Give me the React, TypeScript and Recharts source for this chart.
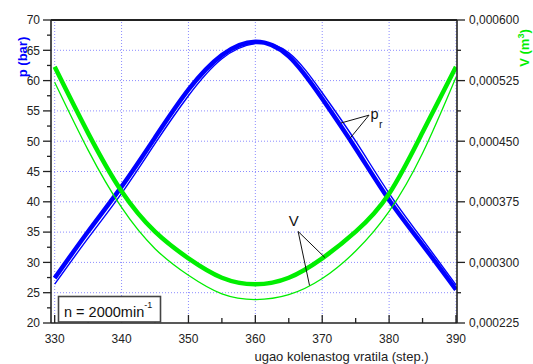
import React from 'react';
import { ComposedChart, Line, XAxis, YAxis, ReferenceLine, ReferenceDot } from 'recharts';

const angles = [330, 335, 340, 345, 350, 355, 360, 365, 370, 375, 380, 385, 390];
const pThick = [27.4, 35.1, 42.5, 50.6, 58.5, 64.2, 66.4, 64.0, 57.0, 48.8, 40.3, 32.9, 25.5];
const pThin = [26.4, 34.0, 41.4, 49.6, 57.5, 63.6, 66.1, 64.6, 58.0, 50.0, 41.4, 33.8, 26.3];
const vThick = [0.000542, 0.00046, 0.000388, 0.000338, 0.000305, 0.000281, 0.000273, 0.000281, 0.000305, 0.000338, 0.000385, 0.000461, 0.000542];
const vThin = [0.000523, 0.000439, 0.000368, 0.000317, 0.000284, 0.000261, 0.000254, 0.00026, 0.00028, 0.000314, 0.000363, 0.000435, 0.000529];

const xTicks = [330, 335, 340, 345, 350, 355, 360, 365, 370, 375, 380, 385, 390];
const xMajor = [330, 340, 350, 360, 370, 380, 390];
const pTicks = [20, 22.5, 25, 27.5, 30, 32.5, 35, 37.5, 40, 42.5, 45, 47.5, 50, 52.5, 55, 57.5, 60, 62.5, 65, 67.5, 70];
const pMajor = [20, 25, 30, 35, 40, 45, 50, 55, 60, 65, 70];
const pGrid = [25, 30, 35, 40, 45, 50, 55, 60, 65];
const vTicks = [0.000225, 0.0002625, 0.0003, 0.0003375, 0.000375, 0.0004125, 0.00045, 0.0004875, 0.000525, 0.0005625, 0.0006];
const vMajor = [0.000225, 0.0003, 0.000375, 0.00045, 0.000525, 0.0006];

const data = angles.map((a, i) => ({ a, pThick: pThick[i], pThin: pThin[i], vThick: vThick[i], vThin: vThin[i] }));

const FONT = '"Liberation Sans", Arial, sans-serif';
const BLUE = '#0000ff';
const GREEN = '#00ee00';
const GRID = '#8c8cff';

const isIn = (arr: number[], v: number) => arr.some((m) => Math.abs(m - v) < 1e-9);

const XTick = (props: any) => {
  const { x, y, payload } = props;
  const major = isIn(xMajor, payload.value);
  return (
    <g>
      <line x1={x} x2={x} y1={y} y2={y - (major ? 8 : 5)} stroke="#222" strokeWidth={1.3} />
      {major && (
        <text x={x} y={y + 20} textAnchor="middle" fontFamily={FONT} fontSize={12} fill="#222">
          {payload.value}
        </text>
      )}
    </g>
  );
};

const PTick = (props: any) => {
  const { x, y, payload } = props;
  const major = isIn(pMajor, payload.value);
  return (
    <g>
      <line x1={x} x2={x - (major ? 8 : 4)} y1={y} y2={y} stroke="#222" strokeWidth={1.3} />
      {major && (
        <text x={x - 11} y={y + 4.3} textAnchor="end" fontFamily={FONT} fontSize={12} fill="#222">
          {payload.value}
        </text>
      )}
    </g>
  );
};

const VTick = (props: any) => {
  const { x, y, payload } = props;
  const major = isIn(vMajor, payload.value);
  return (
    <g>
      <line x1={x} x2={x + (major ? 8 : 4)} y1={y} y2={y} stroke="#222" strokeWidth={1.3} />
      {major && (
        <text x={x + 12} y={y + 4.3} textAnchor="start" fontFamily={FONT} fontSize={12} fill="#222">
          {payload.value.toFixed(6).replace('.', ',')}
        </text>
      )}
    </g>
  );
};

const PLabel = (props: any) => (
  <g>
    <text x={props.cx + 1.5} y={props.cy + 4} fontFamily={FONT} fontSize={14.5} fill="#111" style={{ fill: '#111' }}>p</text>
    <text x={props.cx + 10} y={props.cy + 12.5} fontFamily={FONT} fontSize={10.5} fill="#111" style={{ fill: '#111' }}>r</text>
  </g>
);

const VLabel = (props: any) => (
  <text x={props.cx + 0.5} y={props.cy - 5} textAnchor="end" fontFamily={FONT} fontSize={15} fill="#111" style={{ fill: '#111' }}>V</text>
);

export default function App() {
  return (
    <div style={{ position: 'absolute', left: 0, top: 0, width: 533, height: 364, background: '#fff' }}>
      <ComposedChart width={533} height={364} data={data} margin={{ top: 20, right: 0, bottom: 0, left: 0 }}>
        {xMajor.map((v) => (
          <ReferenceLine key={'gx' + v} x={v} yAxisId="p" stroke={GRID} strokeDasharray="1 2" strokeWidth={1} />
        ))}
        {pGrid.map((v) => (
          <ReferenceLine key={'gy' + v} y={v} yAxisId="p" stroke={GRID} strokeDasharray="1 2" strokeWidth={1} />
        ))}
        <XAxis
          dataKey="a"
          type="number"
          domain={[329.45, 390.15]}
          ticks={xTicks}
          interval={0}
          height={41}
          tickSize={0}
          tickMargin={0}
          tick={<XTick />}
          axisLine={{ stroke: '#222', strokeWidth: 1.6 }}
          allowDataOverflow
        />
        <YAxis
          yAxisId="p"
          orientation="left"
          type="number"
          domain={[20, 70]}
          ticks={pTicks}
          interval={0}
          width={51}
          tickSize={0}
          tickMargin={0}
          tick={<PTick />}
          axisLine={{ stroke: '#222', strokeWidth: 1.6 }}
          allowDataOverflow
        />
        <YAxis
          yAxisId="v"
          orientation="right"
          type="number"
          domain={[0.000225, 0.0006]}
          ticks={vTicks}
          interval={0}
          width={76}
          tickSize={0}
          tickMargin={0}
          tick={<VTick />}
          axisLine={{ stroke: '#222', strokeWidth: 1.6 }}
          allowDataOverflow
        />
        <ReferenceLine y={70} yAxisId="p" stroke="#222" strokeWidth={2} />
        <Line yAxisId="p" dataKey="pThin" type="natural" stroke={BLUE} strokeWidth={1.4} dot={false} isAnimationActive={false} />
        <Line yAxisId="p" dataKey="pThick" type="natural" stroke={BLUE} strokeWidth={4.5} dot={false} isAnimationActive={false} />
        <Line yAxisId="v" dataKey="vThin" type="natural" stroke={GREEN} strokeWidth={1.3} dot={false} isAnimationActive={false} />
        <Line yAxisId="v" dataKey="vThick" type="natural" stroke={GREEN} strokeWidth={4.5} dot={false} isAnimationActive={false} />
        <ReferenceLine yAxisId="p" segment={[{ x: 377.0, y: 54.3 }, { x: 372.8, y: 53.0 }]} stroke="#111" strokeWidth={1} />
        <ReferenceLine yAxisId="p" segment={[{ x: 377.0, y: 54.3 }, { x: 374.1, y: 50.4 }]} stroke="#111" strokeWidth={1} />
        <ReferenceLine yAxisId="p" segment={[{ x: 366.4, y: 35.1 }, { x: 370.4, y: 30.8 }]} stroke="#111" strokeWidth={1} />
        <ReferenceLine yAxisId="p" segment={[{ x: 366.4, y: 35.1 }, { x: 368.1, y: 26.2 }]} stroke="#111" strokeWidth={1} />
        <ReferenceDot yAxisId="p" x={377.0} y={54.3} r={0} shape={<PLabel />} />
        <ReferenceDot yAxisId="p" x={366.4} y={35.1} r={0} shape={<VLabel />} />
      </ComposedChart>
      <svg width={533} height={364} style={{ position: 'absolute', left: 0, top: 0, pointerEvents: 'none' }}>
        <text x={341.5} y={361} textAnchor="middle" fontFamily={FONT} fontSize={13} fill="#222">
          ugao kolenastog vratila (step.)
        </text>
        <text transform="translate(27,57) rotate(-90)" textAnchor="middle" fontFamily={FONT} fontSize={13} fontWeight="bold" fill={BLUE}>
          p (bar)
        </text>
        <text transform="translate(529,48) rotate(-90)" textAnchor="middle" fontFamily={FONT} fontSize={13} fontWeight="bold" fill={GREEN}>
          V (m<tspan dy={-5} fontSize={9}>3</tspan><tspan dy={5}>)</tspan>
        </text>
        <rect x={58.5} y={296.5} width={102} height={25.5} fill="#fff" stroke="#444" strokeWidth={1.6} />
        <text x={64} y={317} fontFamily={FONT} fontSize={14.5} fill="#111">
          n = 2000min<tspan dy={-9} fontSize={9}>-1</tspan>
        </text>
      </svg>
    </div>
  );
}
